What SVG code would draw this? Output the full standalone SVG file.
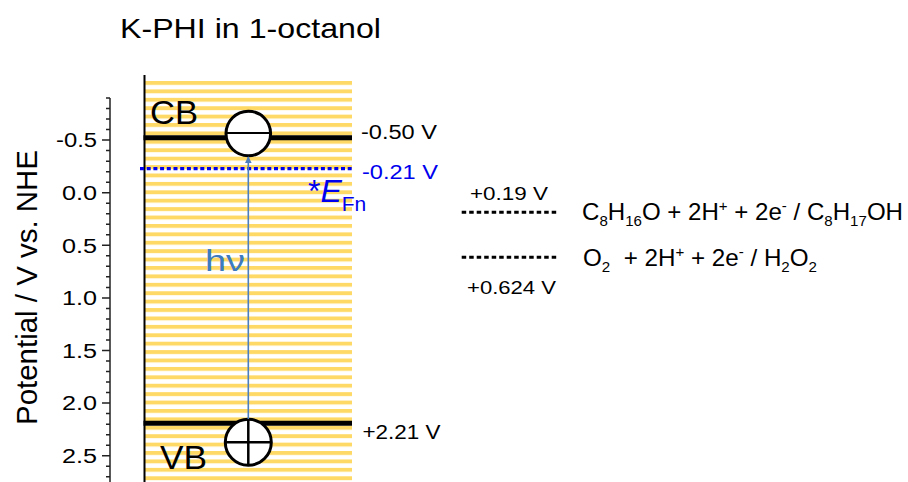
<svg xmlns="http://www.w3.org/2000/svg" width="908" height="482" viewBox="0 0 908 482">
<style>
text{font-family:"Liberation Sans",Arial,Helvetica,sans-serif;fill:#000}
.tick{font-size:20px;text-anchor:end}
.val{font-size:19.5px}
.blue{fill:#0000ee}
.hv{fill:#3c7bc0}
.band{stroke:#000;stroke-width:5}
.circ{fill:#fff;stroke:#000;stroke-width:3}
.eq{font-size:24px}
.sub{font-size:15px}
</style>
<defs>
<pattern id="stripes" patternUnits="userSpaceOnUse" x="0" y="81" width="10" height="8.41">
<rect x="0" y="0" width="10" height="3.9" fill="#ffd966"/>
</pattern>
<marker id="ah" viewBox="0 0 10 10" refX="9" refY="5" markerWidth="7" markerHeight="7" orient="auto" markerUnits="userSpaceOnUse">
<path d="M0,0 L10,5 L0,10 z" fill="#4a7ebf"/>
</marker>
</defs>
<rect width="908" height="482" fill="#fff"/>
<text x="120" y="38" font-size="28" textLength="261" lengthAdjust="spacingAndGlyphs">K-PHI in 1-octanol</text>
<g id="axis">
<path d="M110 98 V482" stroke="#222" stroke-width="1.5" fill="none"/>
<path stroke="#222" stroke-width="1.5" fill="none" d="M106 98.02H110M106 108.54H110M106 119.06H110M106 129.58H110M102 140.1H110M106 150.62H110M106 161.14H110M106 171.66H110M106 182.18H110M102 192.7H110M106 203.22H110M106 213.74H110M106 224.26H110M106 234.78H110M102 245.3H110M106 255.82H110M106 266.34H110M106 276.86H110M106 287.38H110M102 297.9H110M106 308.42H110M106 318.94H110M106 329.46H110M106 339.98H110M102 350.5H110M106 361.02H110M106 371.54H110M106 382.06H110M106 392.58H110M102 403.1H110M106 413.62H110M106 424.14H110M106 434.66H110M106 445.18H110M102 455.7H110M106 466.22H110M106 476.74H110"/>
<text class="tick" x="97" y="147.3" textLength="41" lengthAdjust="spacingAndGlyphs">-0.5</text>
<text class="tick" x="97" y="199.9" textLength="35" lengthAdjust="spacingAndGlyphs">0.0</text>
<text class="tick" x="97" y="252.5" textLength="35" lengthAdjust="spacingAndGlyphs">0.5</text>
<text class="tick" x="97" y="305.1" textLength="35" lengthAdjust="spacingAndGlyphs">1.0</text>
<text class="tick" x="97" y="357.7" textLength="35" lengthAdjust="spacingAndGlyphs">1.5</text>
<text class="tick" x="97" y="410.3" textLength="35" lengthAdjust="spacingAndGlyphs">2.0</text>
<text class="tick" x="97" y="462.9" textLength="35" lengthAdjust="spacingAndGlyphs">2.5</text>
<text transform="translate(37,287.5) rotate(-90)" font-size="29" text-anchor="middle" textLength="275" lengthAdjust="spacingAndGlyphs">Potential / V vs. NHE</text>
</g>
<g id="semiconductor">
<rect x="145" y="81" width="207" height="401" fill="url(#stripes)"/>
<path d="M144.5 75 V482" stroke="#000" stroke-width="2"/>
</g>
<g id="CB">
<path class="band" d="M143.5 137.7 H352"/>
<text x="150" y="123.7" font-size="33" textLength="48" lengthAdjust="spacingAndGlyphs">CB</text>
<circle class="circ" cx="248.3" cy="133.5" r="22.3"/>
<path d="M226 133 H270.5" stroke="#000" stroke-width="2"/>
<text class="val" x="361" y="138.5" textLength="76" lengthAdjust="spacingAndGlyphs">-0.50 V</text>
</g>
<g id="EFn">
<path d="M140 168.7 H352" stroke="#0000ee" stroke-width="3.3" stroke-dasharray="4 2.7"/>
<text class="val blue" x="362" y="178.5" textLength="76" lengthAdjust="spacingAndGlyphs">-0.21 V</text>
<text class="blue" x="308" y="201.7"><tspan font-size="32">*</tspan><tspan font-size="32" font-style="italic">E</tspan><tspan font-size="21" dy="9">Fn</tspan></text>
</g>
<g id="VB">
<path class="band" d="M143.5 423.3 H352"/>
<text x="160" y="469.3" font-size="34" textLength="47" lengthAdjust="spacingAndGlyphs">VB</text>
<circle class="circ" cx="248.3" cy="442.3" r="23"/>
<path d="M225.3 442.3 H271.3 M248.3 419.3 V465.3" stroke="#000" stroke-width="2.5"/>
<text class="val" x="362.5" y="438.5" textLength="78" lengthAdjust="spacingAndGlyphs">+2.21 V</text>
</g>
<g id="connectors">
<path d="M248.3 419 V157" stroke="#4a7ebf" stroke-width="1.6" marker-end="url(#ah)"/>
</g>
<text class="hv" x="205" y="271" font-size="30" textLength="40" lengthAdjust="spacingAndGlyphs">hν</text>
<g id="octanol">
<path d="M461.7 212.3 H559" stroke="#000" stroke-width="3" stroke-dasharray="4.5 3"/>
<text x="470" y="199.5" font-size="18.5" textLength="78" lengthAdjust="spacingAndGlyphs">+0.19 V</text>
<text class="eq" x="582" y="219.5" textLength="321" lengthAdjust="spacingAndGlyphs">C<tspan class="sub" dy="6">8</tspan><tspan dy="-6">H</tspan><tspan class="sub" dy="6">16</tspan><tspan dy="-6">O + 2H</tspan><tspan class="sub" dy="-9">+</tspan><tspan dy="9"> + 2e</tspan><tspan class="sub" dy="-9">-</tspan><tspan dy="9"> / C</tspan><tspan class="sub" dy="6">8</tspan><tspan dy="-6">H</tspan><tspan class="sub" dy="6">17</tspan><tspan dy="-6">OH</tspan></text>
</g>
<g id="oxygen">
<path d="M461.7 257.3 H559" stroke="#000" stroke-width="3" stroke-dasharray="4.5 3"/>
<text x="467" y="293.7" font-size="18.5" textLength="89" lengthAdjust="spacingAndGlyphs">+0.624 V</text>
<text class="eq" x="583" y="266" textLength="234" lengthAdjust="spacingAndGlyphs">O<tspan class="sub" dy="6">2</tspan><tspan dy="-6" xml:space="preserve">  + 2H</tspan><tspan class="sub" dy="-9">+</tspan><tspan dy="9"> + 2e</tspan><tspan class="sub" dy="-9">-</tspan><tspan dy="9"> / H</tspan><tspan class="sub" dy="6">2</tspan><tspan dy="-6">O</tspan><tspan class="sub" dy="6">2</tspan></text>
</g>
</svg>
